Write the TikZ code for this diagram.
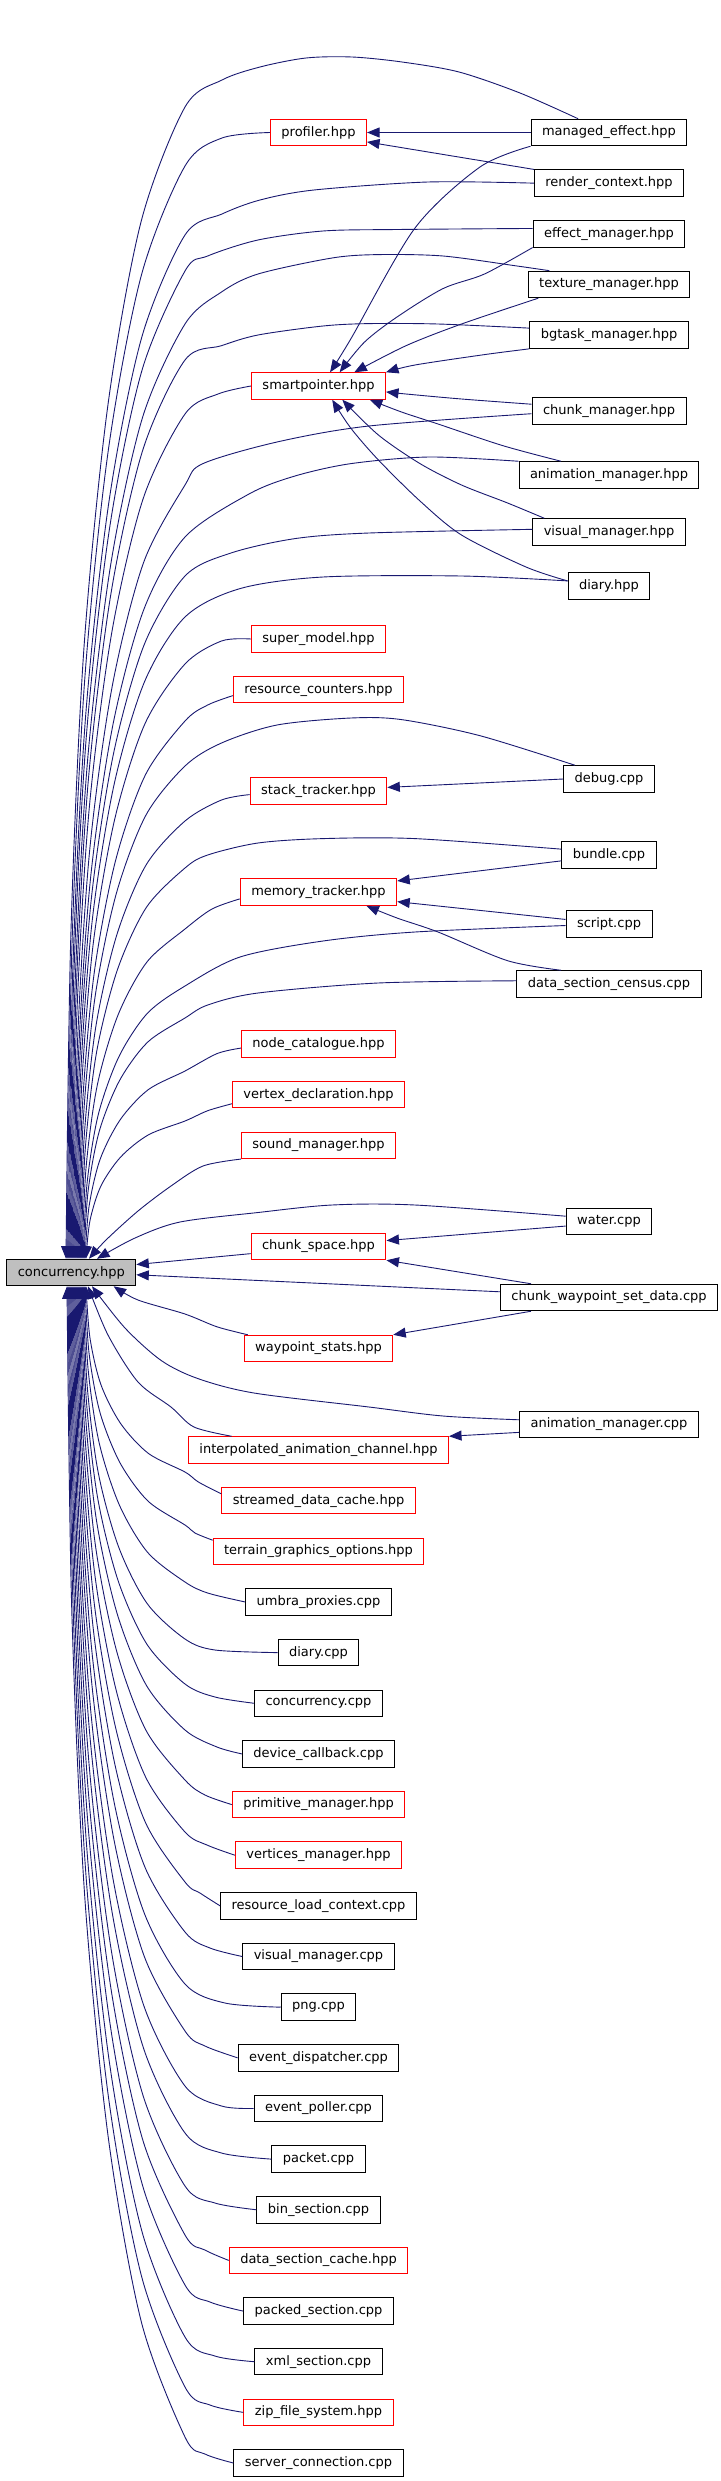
\documentclass[tikz,border=0pt]{standalone}
\usepackage{fontspec}
\setmainfont{DejaVu Sans}
\usetikzlibrary{arrows.meta,positioning}
\definecolor{edgeblue}{RGB}{25,25,112}

\begin{document}
\begin{tikzpicture}[
  x=1pt, y=-1pt,
  >={Triangle[length=12.5pt,width=10pt]},
  node distance=23.15pt,
  file/.style={draw, fill=white, line width=1pt, minimum height=26.5pt, inner xsep=11pt, inner ysep=0pt, font=\fontsize{13}{15}\selectfont},
  undoc/.style={file, draw=red},
  root/.style={file, fill=gray!50},
  incl/.style={->, draw=edgeblue, line width=0.9pt}
]
\useasboundingbox (0,0) rectangle (720,2481);

% Included header
\node[root] (conc) at (71.3,1272.5) {concurrency.hpp};

% Middle column
\node[undoc] (profiler) at (318.5,132.5) {profiler.hpp};
\node[undoc] (smartptr) at (318.5,386) {smartpointer.hpp};
\node[undoc] (supermodel) at (318.5,639) {super\_model.hpp};
\node[undoc, below=of supermodel] (rescount) {resource\_counters.hpp};
\node[undoc] (stack) at (318.5,791) {stack\_tracker.hpp};
\node[undoc] (memory) at (318.5,892) {memory\_tracker.hpp};
\node[undoc] (nodecat) at (318.5,1044) {node\_catalogue.hpp};
\node[undoc, below=of nodecat] (vertexdecl) {vertex\_declaration.hpp};
\node[undoc, below=of vertexdecl] (sound) {sound\_manager.hpp};
\node[undoc] (chunkspace) at (318.5,1246.5) {chunk\_space.hpp};
\node[undoc] (waypoint) at (318.5,1348.5) {waypoint\_stats.hpp};
\node[undoc] (interp) at (318.5,1450) {interpolated\_animation\_channel.hpp};
\node[undoc, below=of interp] (streamed) {streamed\_data\_cache.hpp};
\node[undoc, below=of streamed] (terrain) {terrain\_graphics\_options.hpp};
\node[file, below=of terrain] (umbra) {umbra\_proxies.cpp};
\node[file, below=of umbra] (diarycpp) {diary.cpp};
\node[file, below=of diarycpp] (conccpp) {concurrency.cpp};
\node[file, below=of conccpp] (device) {device\_callback.cpp};
\node[undoc, below=of device] (primitive) {primitive\_manager.hpp};
\node[undoc, below=of primitive] (vertices) {vertices\_manager.hpp};
\node[file, below=of vertices] (resload) {resource\_load\_context.cpp};
\node[file, below=of resload] (visualcpp) {visual\_manager.cpp};
\node[file, below=of visualcpp] (png) {png.cpp};
\node[file, below=of png] (dispatcher) {event\_dispatcher.cpp};
\node[file, below=of dispatcher] (poller) {event\_poller.cpp};
\node[file, below=of poller] (packet) {packet.cpp};
\node[file, below=of packet] (bin) {bin\_section.cpp};
\node[undoc, below=of bin] (dscache) {data\_section\_cache.hpp};
\node[file, below=of dscache] (packed) {packed\_section.cpp};
\node[file, below=of packed] (xml) {xml\_section.cpp};
\node[undoc, below=of xml] (zip) {zip\_file\_system.hpp};
\node[file, below=of zip] (server) {server\_connection.cpp};

% Right column
\node[file] (managed) at (609,132.5) {managed\_effect.hpp};
\node[file, below=of managed] (render) {render\_context.hpp};
\node[file, below=of render] (effect) {effect\_manager.hpp};
\node[file, below=of effect] (texture) {texture\_manager.hpp};
\node[file, below=of texture] (bgtask) {bgtask\_manager.hpp};
\node[file] (chunkmgr) at (609,411) {chunk\_manager.hpp};
\node[file] (animhpp) at (609,475) {animation\_manager.hpp};
\node[file] (visualhpp) at (609,532) {visual\_manager.hpp};
\node[file] (diaryhpp) at (609,586) {diary.hpp};
\node[file] (debug) at (609,779) {debug.cpp};
\node[file] (bundle) at (609,855) {bundle.cpp};
\node[file] (script) at (609,924) {script.cpp};
\node[file] (census) at (609,984) {data\_section\_census.cpp};
\node[file] (water) at (609,1221.5) {water.cpp};
\node[file] (wpdata) at (609,1297.5) {chunk\_waypoint\_set\_data.cpp};
\node[file] (animcpp) at (609,1424.5) {animation\_manager.cpp};

% Right column -> middle column
\draw[incl] (managed.west) -- (profiler.east);
\draw[incl] (render.north west) -- (profiler.-11);
\draw[incl] plot[smooth] coordinates {(managed.south west) (480,167) (415,228) (351,338.6) (smartptr.50)};
\draw[incl] plot[smooth] coordinates {(effect.south west) (484.5,274) (443,288.6) (397,317) (364.6,342) (smartptr.33)};
\draw[incl] plot[smooth] coordinates {(texture.191) (461.5,324) (406,345.7) (smartptr.21)};
\draw[incl] plot[smooth] coordinates {(bgtask.south west) (484.5,354.6) (415,365) (smartptr.north east)};
\draw[incl] plot[smooth] coordinates {(chunkmgr.175) (461.5,399) (406,394) (smartptr.-5)};
\draw[incl] plot[smooth] coordinates {(animhpp.164) (503,445.7) (438,424) (401.5,412) (smartptr.-15)};
\draw[incl] plot[smooth] coordinates {(visualhpp.168) (507.6,503) (461.5,485) (420,463.6) (378.4,435) (smartptr.-30)};
\draw[incl] plot[smooth] coordinates {(diaryhpp.173) (526,567) (461.5,535) (420,501) (378.4,460) (350.7,428) (smartptr.-45)};
\draw[incl] (debug.west) -- (stack.3);
\draw[incl] (bundle.187) -- (memory.8);
\draw[incl] (script.174) -- (memory.-7);
\draw[incl] plot[smooth] coordinates {(census.164) (507.6,960.7) (438,932) (397,918) (memory.-16)};
\draw[incl] (water.186) -- (chunkspace.5);
\draw[incl] (wpdata.170) -- (chunkspace.south east);
\draw[incl] (wpdata.190) -- (waypoint.north east);
\draw[incl] (animcpp.185) -- (interp.north east);

% Right column -> concurrency.hpp (over the top)
\draw[incl] plot[smooth] coordinates {(managed.156) (520,93) (459,72) (402,62) (352,57) (306,58) (260,67) (222,80) (185,107) (141,222) (107.7,406.7) (83.9,648.7) (70.8,936.8) ([xshift=-5.3]conc.north)};
\draw[incl] plot[smooth] coordinates {(render.west) (428,182) (314,190) (260,200) (222,214) (185,235) (141.7,337.5) (109,501.4) (85.6,716.5) (72.7,972.6) ([xshift=-3.3]conc.north)};
\draw[incl] plot[smooth] coordinates {(effect.176) (397,229.5) (323,231) (258,240) (207.7,256) (185,271) (142.1,369.9) (109.6,528) (86.4,735.6) (73.6,982.7) ([xshift=-2.3]conc.north)};
\draw[incl] plot[smooth] coordinates {(texture.167) (517,266) (443,256) (378,254.6) (332,258) (258,274) (221.5,292) (185,324) (142.5,417.6) (110.3,567.2) (87.3,763.7) (74.6,997.6) ([xshift=-1.3]conc.north)};
\draw[incl] plot[smooth] coordinates {(bgtask.175) (438,324) (369,323.6) (323,326) (258,335) (221.5,345.7) (185,360) (142.8,450) (110.9,593.9) (88.1,782.8) (75.6,1007.6) ([xshift=-0.3]conc.north)};
\draw[incl] plot[smooth] coordinates {(chunkmgr.182) (369,426) (277,442) (203,463.6) (185,485) (143.6,562.5) (112.2,686.4) (89.8,849) (77.5,1042.6) ([xshift=1.7]conc.north)};
\draw[incl] plot[smooth] coordinates {(animhpp.north west) (429,457) (351,463.6) (295,476) (249,494) (185,537) (143.9,609.3) (112.9,724.9) (90.7,876.6) (78.4,1057.2) ([xshift=2.7]conc.north)};
\draw[incl] plot[smooth] coordinates {(visualhpp.178) (369,533) (295,538.6) (231,553) (185,576) (144.3,644.4) (113.5,753.7) (91.5,897.2) (79.4,1068.1) ([xshift=3.7]conc.north)};
\draw[incl] plot[smooth] coordinates {(diaryhpp.173) (461.5,576) (323,577) (240,588.6) (185,617) (144.7,681.3) (114.2,784) (92.4,919) (80.4,1079.6) ([xshift=4.7]conc.north)};
\draw[incl] plot[smooth] coordinates {(debug.158) (480,735.7) (401.5,719.6) (351,718) (277,725) (221.5,743) (185,766) (145.8,815.4) (116.1,894.3) (94.9,998) (83.2,1121.3) ([xshift=7.7]conc.north)};
\draw[incl] plot[smooth] coordinates {(bundle.173) (415,838.6) (323,838.6) (258,843) (207.7,855) (185,868) (146.5,907.2) (117.4,969.8) (96.6,1052) (85.2,1149.9) ([xshift=9.7]conc.north)};
\draw[incl] plot[smooth] coordinates {(script.182) (415,932) (323,941) (240,957) (185,986) (147.3,1013.4) (118.7,1057.1) (98.3,1114.5) (87.1,1182.9) ([xshift=11.7]conc.north)};
\draw[incl] plot[smooth] coordinates {(census.178) (378,983) (258,993) (207.7,1005) (185,1018) (147.6,1042.2) (119.4,1080.8) (99.2,1131.5) (88,1191.9) ([xshift=12.7]conc.north)};
\draw[incl] plot[smooth] coordinates {(water.173) (415,1205) (332,1205) (258,1212.5) (180,1222) (135,1238) ([xshift=25.7]conc.north)};
\draw[incl] (wpdata.177) -- (conc.-2);
\draw[incl] plot[smooth] coordinates {(animcpp.177) (443,1416) (369,1407) (254,1393) (198,1378.6) (161.5,1360.7) (125,1328) ([xshift=20.7]conc.south)};

% Middle column above -> concurrency.hpp
\foreach \src/\px/\py/\ym/\ex in {
  profiler.west/222/138/166/67, smartptr.west/218/394/414/72,
  supermodel.west/221.5/641/664/77, rescount.184/207.7/705/721/78,
  stack.183/221.5/800/821/80, memory.185/212/909/929/82,
  nodecat.183/217/1053.6/1071/85, vertexdecl.186/207.7/1110.7/1121/86}
  \draw[incl] plot[smooth] coordinates {(\src) (\px,\py) (185,\ym)
    ({\ex+0.63*(185-\ex)},{\ym+0.1*(1259.5-\ym)})
    ({\ex+0.35*(185-\ex)},{\ym+0.26*(1259.5-\ym)})
    ({\ex+0.15*(185-\ex)},{\ym+0.47*(1259.5-\ym)})
    ({\ex+0.04*(185-\ex)},{\ym+0.72*(1259.5-\ym)})
    ([xshift=\ex-71.3]conc.north)};
\draw[incl] plot[smooth] coordinates {(sound.south west) (203,1166) (171,1186) (138,1211) (106,1240) ([xshift=17.7]conc.north)};
\draw[incl] (chunkspace.186) -- (conc.7);

% Middle column below -> concurrency.hpp
\draw[incl] plot[smooth] coordinates {(waypoint.169) (217,1326.8) (185,1314) (138,1300) (conc.-18)};
\draw[incl] plot[smooth] coordinates {(interp.171) (194,1427) (171,1407) (138,1382) (108,1335) ([xshift=16.7]conc.south)};
\foreach \src/\px/\py/\ym/\ex in {
  streamed.176/198.4/1482/1472/86, terrain.174/195/1533/1525/85,
  umbra.west/207.7/1593/1582/84, diarycpp.west/215/1650/1639/83,
  conccpp.west/215/1697/1684/82, device.west/217/1747/1730/81,
  primitive.west/205/1795/1780/80, vertices.west/207/1845/1832/79,
  resload.west/200/1893/1882/78, visualcpp.west/210/1948/1932/77,
  png.west/225/2003/1984/76, dispatcher.west/205/2046/2031/75,
  poller.west/221.5/2106/2086/74, packet.west/221.5/2153/2133/73,
  bin.west/215/2203/2186/72, dscache.west/205/2250/2235/71,
  packed.west/210/2302/2285/70, xml.west/215/2356/2337/69,
  zip.west/210/2405/2387/68, server.west/205/2454/2437/67}
  \draw[incl] plot[smooth] coordinates {(\src) (\px,\py) (185,\ym)
    ({\ex+0.63*(185-\ex)},{\ym-0.1*(\ym-1285.7)})
    ({\ex+0.35*(185-\ex)},{\ym-0.26*(\ym-1285.7)})
    ({\ex+0.15*(185-\ex)},{\ym-0.47*(\ym-1285.7)})
    ({\ex+0.04*(185-\ex)},{\ym-0.72*(\ym-1285.7)})
    ([xshift=\ex-71.3]conc.south)};

\end{tikzpicture}
\end{document}
